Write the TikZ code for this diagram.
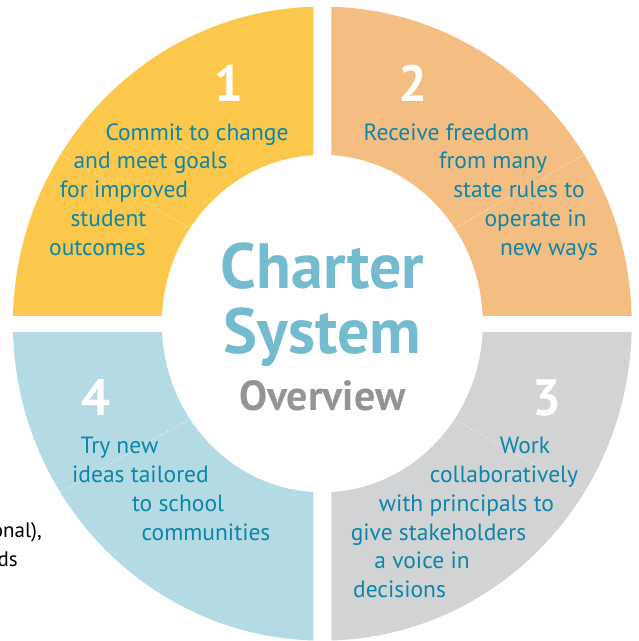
\documentclass[tikz,border=0pt]{standalone}
\usepackage{fontspec}
\setmainfont{PT Sans}
\definecolor{qyellow}{HTML}{FCC84C}
\definecolor{qorange}{HTML}{F4BE82}
\definecolor{qgray}{HTML}{D1D3D4}
\definecolor{qblue}{HTML}{B4DAE4}
\definecolor{tealtext}{HTML}{0C86A8}
\definecolor{chartercol}{HTML}{74BBD0}
\definecolor{overcol}{HTML}{929497}
\tikzset{
  item/.style={anchor=base, inner sep=0pt, text=tealtext, font=\fontsize{23.5}{28}\selectfont},
  num/.style={anchor=base, inner sep=0pt, text=white, font=\fontsize{51}{51}\selectfont\bfseries},
  title/.style={anchor=base, inner sep=0pt, text=chartercol, font=\fontsize{64}{64}\selectfont\bfseries},
  sub/.style={anchor=base, inner sep=0pt, text=overcol, font=\fontsize{42}{42}\selectfont\bfseries},
  side/.style={anchor=base east, inner sep=0pt, text=black, font=\fontsize{21}{21}\selectfont},
  divider/.style={white, line width=0.7pt, dotted}
}
\begin{document}
\begin{tikzpicture}[x=1pt,y=-1pt]
\useasboundingbox (0,0) rectangle (639,641);
\coordinate (c) at (322.3,323.6);
\newcommand{\ringpart}[2]{%
  \begin{scope}
    \clip #1;
    \fill[#2, even odd rule] (c) ellipse [x radius=309.4, y radius=317] (c) ellipse [x radius=160.5, y radius=168.7];
  \end{scope}}
\ringpart{(0,0) rectangle (313.3,315)}{qyellow}
\ringpart{(331.3,0) rectangle (639,315)}{qorange}
\ringpart{(331.3,332.3) rectangle (639,641)}{qgray}
\ringpart{(0,332.3) rectangle (313.3,641)}{qblue}
% dotted dividers
\coordinate (d1a) at (60,154);  \coordinate (d1b) at (188,227);
\coordinate (d2a) at (457,227); \coordinate (d2b) at (585,154);
\coordinate (d3a) at (457,421); \coordinate (d3b) at (585,493);
\coordinate (d4a) at (59,493);  \coordinate (d4b) at (188,420);
\draw[divider] (d1a) -- (d1b);
\draw[divider] (d2a) -- (d2b);
\draw[divider] (d3a) -- (d3b);
\draw[divider] (d4a) -- (d4b);
% numbers
\node[num] (n1) at (229,101) {1};
\node[num] (n2) at (413,101) {2};
\node[num] (n3) at (547,415) {3};
\node[num] (n4) at (96,415) {4};
% quadrant 1
\node[item] (a1) at (197,140) {Commit to change};
\node[item] (a2) at (150.5,168.75) {and meet goals};
\node[item] (a3) at (124,197.5) {for improved};
\node[item] (a4) at (108.5,226.25) {student};
\node[item] (a5) at (97.5,255) {outcomes};
% quadrant 2
\node[item] (b1) at (446.5,140) {Receive freedom};
\node[item] (b2) at (493,168.75) {from many};
\node[item] (b3) at (519,197.5) {state rules to};
\node[item] (b4) at (535.5,226.25) {operate in};
\node[item] (b5) at (549,255) {new ways};
% quadrant 3
\node[item] (c1) at (525,453) {Work};
\node[item] (c2) at (504,482) {collaboratively};
\node[item] (c3) at (466.5,511) {with principals to};
\node[item] (c4) at (438.5,540) {give stakeholders};
\node[item] (c5) at (422,568.5) {a voice in};
\node[item] (c6) at (399.5,597) {decisions};
% quadrant 4
\node[item] (e1) at (119.5,453) {Try new};
\node[item] (e2) at (140.5,482) {ideas tailored};
\node[item] (e3) at (178,511) {to school};
\node[item] (e4) at (206,540) {communities};
% centre
\node[title] (t1) at (322.5,288) {Charter};
\node[title] (t2) at (322.5,353) {System};
\node[sub] (t3) at (322.5,410) {Overview};
% cut-off side text
\node[side] (s1) at (42,537) {onal),};
\node[side] (s2) at (18,566) {ds};
\end{tikzpicture}
\end{document}
